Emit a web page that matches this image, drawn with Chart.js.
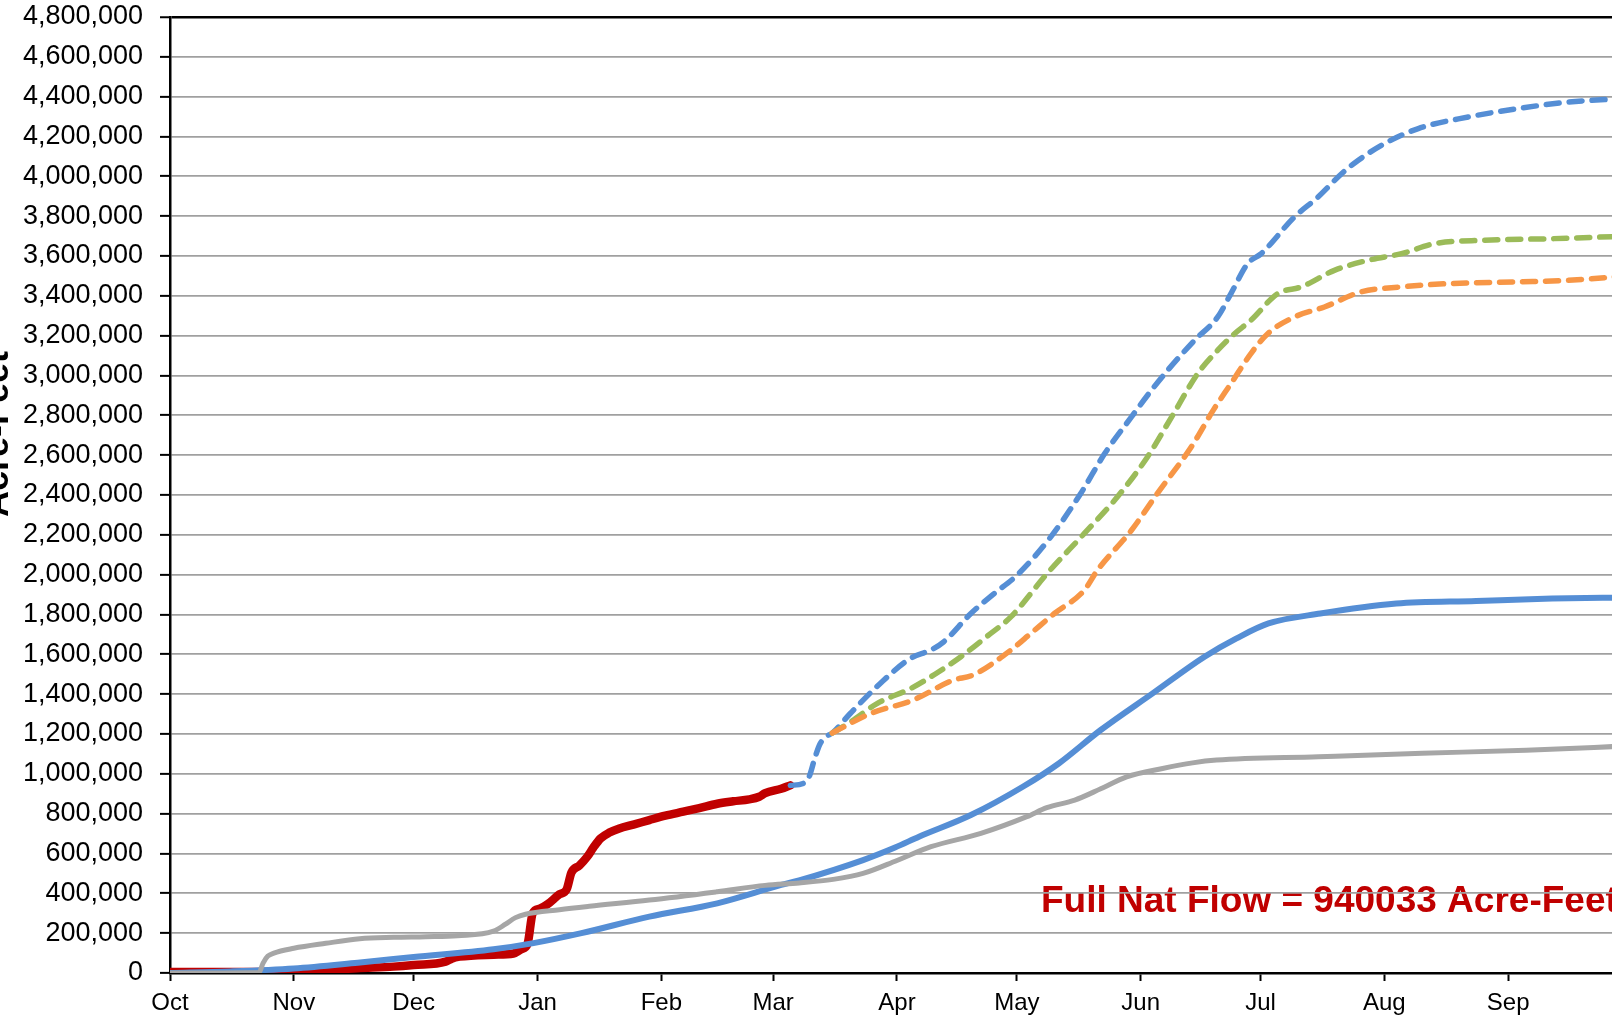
<!DOCTYPE html>
<html>
<head>
<meta charset="utf-8">
<script src="https://cdn.jsdelivr.net/npm/chart.js@4.4.1/dist/chart.umd.min.js"></script>
<style>
  html, body { margin: 0; padding: 0; background: #fff; overflow: hidden; }
  #wrap { width: 1612px; height: 1016px; }
</style>
</head>
<body>
<div id="wrap"><canvas id="myChart" width="1612" height="1016"></canvas></div>
<script>
// month axis (day 0 = Oct 1)
const monthLabels = ['Oct', 'Nov', 'Dec', 'Jan', 'Feb', 'Mar', 'Apr', 'May', 'Jun', 'Jul', 'Aug', 'Sep'];
const monthStarts = [0, 31, 61, 92, 123, 151, 182, 212, 243, 273, 304, 335];

// current year full natural flow (red)
const redDays = [0, 31, 39, 47, 56, 61, 69, 70.5, 72.5, 81, 86, 88, 89.5, 90.8, 92.5, 94.5, 97.5, 99.3, 100.5, 102.5, 104.5, 106, 107.8, 110, 112.5, 116, 120, 124, 128.5, 132.5, 137, 141, 145, 147.5, 149, 153, 155.3];
const redVals = [5000, 5000, 15000, 24000, 32000, 40000, 57000, 72000, 82000, 92000, 98000, 120000, 145000, 300000, 322000, 345000, 395000, 420000, 505000, 540000, 585000, 630000, 676000, 705000, 726000, 745000, 768000, 790000, 810000, 828000, 850000, 862000, 872000, 885000, 903000, 925000, 942000];

// average year (blue solid)
const avgDays = [0, 15, 31, 47, 61, 81, 91, 103, 120, 137, 153, 157.5, 173.5, 181.5, 187.5, 200.5, 213.5, 222.5, 233, 246, 259, 267, 275, 288, 307, 327, 346, 365];
const avgVals = [0, 8000, 23000, 52000, 80000, 119000, 150000, 200000, 283000, 350000, 442000, 465000, 567000, 630000, 684000, 793000, 935000, 1052000, 1220000, 1404000, 1588000, 1680000, 1755000, 1805000, 1855000, 1868000, 1880000, 1885000];

// comparison year (gray)
const grayDays = [0, 22.3, 23.3, 24.5, 26, 31, 39, 47.5, 56, 64, 72, 81, 84, 86.5, 89, 97.5, 105, 120, 137, 149, 157.5, 166, 173.5, 182, 190.5, 203, 214.5, 219.5, 226.5, 233, 239.5, 248.5, 256, 262, 287.5, 313.5, 339.5, 365];
const grayVals = [0, 3000, 50000, 85000, 100000, 124000, 149000, 172000, 179000, 182000, 187000, 210000, 245000, 278000, 295000, 318000, 335000, 366000, 408000, 440000, 452000, 470000, 500000, 565000, 634000, 701000, 785000, 830000, 868000, 925000, 985000, 1027000, 1055000, 1069000, 1086000, 1103000, 1119000, 1140000];

// forecasts (dashed)
const highDays = [155.3, 158.5, 160, 161.3, 162.6, 164.2, 165.8, 170.3, 177.8, 185.4, 190.4, 193.7, 200.5, 206, 212.2, 220.5, 228, 234, 240.7, 245.7, 249.8, 256.5, 262.3, 265.6, 269.8, 273.2, 281.5, 287.4, 293.3, 297.5, 304, 312.5, 325, 337.4, 350, 365];
const highVals = [942000, 952000, 985000, 1070000, 1145000, 1186000, 1205000, 1303000, 1454000, 1580000, 1621000, 1663000, 1805000, 1900000, 2000000, 2190000, 2408000, 2608000, 2792000, 2926000, 3027000, 3177000, 3294000, 3411000, 3562000, 3612000, 3796000, 3896000, 4013000, 4081000, 4164000, 4240000, 4298000, 4340000, 4373000, 4392000];

const midDays = [165.8, 170.5, 177.1, 185.5, 191.5, 198, 204.5, 210.5, 219.6, 228.9, 237.2, 244.7, 251, 257.3, 262.3, 266.5, 270.6, 277.3, 283.2, 291.5, 300, 308.3, 316.6, 329, 346, 365];
const midVals = [1205000, 1262000, 1354000, 1429000, 1500000, 1588000, 1690000, 1788000, 2006000, 2207000, 2391000, 2591000, 2800000, 3010000, 3127000, 3210000, 3277000, 3411000, 3445000, 3528000, 3579000, 3612000, 3662000, 3679000, 3687000, 3700000];

const lowDays = [165.8, 175.4, 186, 196, 201, 210.5, 215.5, 221.4, 228.9, 232.2, 240.7, 247.2, 255.7, 261.3, 265.6, 270.6, 274.8, 281.5, 289, 298.2, 308.3, 320.8, 337.4, 350, 365];
const lowVals = [1205000, 1303000, 1370000, 1470000, 1496000, 1621000, 1705000, 1805000, 1922000, 2023000, 2223000, 2408000, 2642000, 2830000, 2959000, 3110000, 3210000, 3294000, 3344000, 3420000, 3445000, 3462000, 3470000, 3478000, 3500000];

const annotationText = 'Full Nat Flow = 940033 Acre-Feet';
const yTitle = 'Acre-Feet';

function toPoints(days, vals) {
  return days.map((d, i) => ({ x: d, y: vals[i] }));
}

const FONT = "'Liberation Sans', Arial, sans-serif";
const DASH = [13, 10];

const chartData = {
  datasets: [
    { data: toPoints(grayDays, grayVals), borderColor: '#A6A6A6', borderWidth: 5 },
    { data: toPoints(avgDays, avgVals), borderColor: '#558ED5', borderWidth: 6 },
    { data: toPoints(lowDays, lowVals), borderColor: '#F79646', borderWidth: 5.5, borderDash: DASH, borderCapStyle: 'round' },
    { data: toPoints(midDays, midVals), borderColor: '#9BBB59', borderWidth: 5.5, borderDash: DASH, borderCapStyle: 'round' },
    { data: toPoints(highDays, highVals), borderColor: '#558ED5', borderWidth: 5.5, borderDash: DASH, borderCapStyle: 'round' },
    { data: toPoints(redDays, redVals), borderColor: '#C00000', borderWidth: 8.5, borderCapStyle: 'round' },
  ]
};

const config = {
  type: 'line',
  data: chartData,
  options: {
    responsive: false,
    animation: false,
    devicePixelRatio: 1,
    layout: { padding: { top: 17, left: 0, right: 0, bottom: 0 } },
    elements: {
      point: { radius: 0 },
      line: { cubicInterpolationMode: 'monotone', borderJoinStyle: 'round' }
    },
    plugins: {
      legend: { display: false },
      tooltip: { enabled: false },
      title: { display: false }
    },
    scales: {
      x: {
        type: 'linear',
        min: 0,
        max: 361,
        afterBuildTicks: (scale) => {
          scale.ticks = monthStarts.map(v => ({ value: v }));
        },
        afterFit: (scale) => {
          scale.height = 43;
          scale.paddingLeft = 0;
          scale.paddingRight = 0;
        },
        ticks: {
          autoSkip: false,
          maxRotation: 0,
          padding: 8,
          color: '#000',
          font: { family: FONT, size: 24 },
          callback: (value) => monthLabels[monthStarts.indexOf(value)] || ''
        },
        grid: {
          drawOnChartArea: false,
          drawTicks: true,
          tickLength: 8,
          tickColor: '#000',
          tickWidth: 2
        },
        border: { display: true, color: '#000', width: 2.5 }
      },
      y: {
        min: 0,
        max: 4800000,
        afterFit: (scale) => {
          scale.width = 170;
          scale.paddingTop = 0;
          scale.paddingBottom = 0;
        },
        ticks: {
          stepSize: 200000,
          padding: 17,
          color: '#000',
          font: { family: FONT, size: 27 },
          callback: (value) => value.toLocaleString('en-US')
        },
        grid: {
          color: (ctx) => ctx.tick && ctx.tick.value === 4800000 ? '#000' : '#A0A0A0',
          lineWidth: (ctx) => ctx.tick && ctx.tick.value === 4800000 ? 2.5 : 1.75,
          tickLength: 10,
          tickColor: '#000',
          tickWidth: 2
        },
        border: { display: true, color: '#000', width: 2.5 }
      }
    }
  },
  plugins: [
    {
      id: 'annotationText',
      // drawn first so the grid lines run over it, as in the original
      beforeDraw: (chart) => {
        const ctx = chart.ctx;
        const area = chart.chartArea;
        ctx.save();
        ctx.font = 'bold 37px ' + FONT;
        ctx.fillStyle = '#C00000';
        ctx.textAlign = 'left';
        ctx.textBaseline = 'alphabetic';
        ctx.fillText(annotationText, area.left + 871, area.bottom - 61);
        ctx.restore();
      }
    },
    {
      id: 'yTitle',
      afterDraw: (chart) => {
        const ctx = chart.ctx;
        ctx.save();
        ctx.translate(8, 434);
        ctx.rotate(-Math.PI / 2);
        ctx.font = 'bold 36px ' + FONT;
        ctx.fillStyle = '#000';
        ctx.textAlign = 'center';
        ctx.textBaseline = 'alphabetic';
        ctx.fillText(yTitle, 0, 0);
        ctx.restore();
      }
    }
  ]
};

let chart;

function createChart() {
  const ctx = document.getElementById('myChart').getContext('2d');
  if (chart) {
    chart.destroy();
  }
  chart = new Chart(ctx, config);
}

createChart();
</script>
</body>
</html>
